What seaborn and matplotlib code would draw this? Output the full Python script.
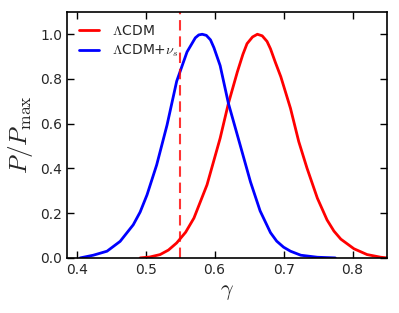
import pandas as pd
import matplotlib
matplotlib.use("Agg")
import matplotlib.pyplot as plt
import seaborn as sns

# --------------------------------------------------
# data
# --------------------------------------------------

gamma_lcdm = [0.492, 0.506, 0.521, 0.533, 0.545, 0.558, 0.570, 0.589, 0.608, 0.620,
              0.633, 0.641, 0.647, 0.655, 0.662, 0.669, 0.676, 0.681, 0.688, 0.696,
              0.710, 0.722, 0.734, 0.749, 0.763, 0.773, 0.783, 0.802, 0.821, 0.841, 0.850]
p_lcdm = [0.0, 0.004, 0.015, 0.035, 0.067, 0.115, 0.178, 0.327, 0.535, 0.691,
          0.832, 0.910, 0.958, 0.988, 1.0, 0.993, 0.968, 0.935, 0.875, 0.810,
          0.669, 0.520, 0.401, 0.267, 0.170, 0.120, 0.084, 0.041, 0.015, 0.003, 0.0]

gamma_nus = [0.405, 0.424, 0.444, 0.463, 0.482, 0.492, 0.502, 0.516, 0.531, 0.545,
             0.560, 0.572, 0.577, 0.582, 0.588, 0.594, 0.599, 0.608, 0.620, 0.637,
             0.652, 0.666, 0.681, 0.690, 0.700, 0.710, 0.725, 0.749, 0.775]
p_nus = [0.0, 0.012, 0.030, 0.074, 0.148, 0.205, 0.282, 0.416, 0.594, 0.790,
         0.921, 0.984, 0.997, 1.0, 0.995, 0.975, 0.940, 0.860, 0.691, 0.505,
         0.340, 0.210, 0.113, 0.075, 0.048, 0.030, 0.012, 0.003, 0.0]

gamma_ref = 0.55

df = pd.concat([
    pd.DataFrame({"gamma": gamma_lcdm, "P": p_lcdm, "model": r"$\Lambda$CDM"}),
    pd.DataFrame({"gamma": gamma_nus, "P": p_nus, "model": r"$\Lambda$CDM+$\nu_s$"}),
])

# --------------------------------------------------
# plotting
# --------------------------------------------------

sns.set_style("ticks")
plt.rcParams["mathtext.fontset"] = "cm"
plt.rcParams["font.family"] = ["DejaVu Sans"]

fig = plt.figure(figsize=(3.99, 3.13), dpi=100)
ax = fig.add_axes([0.168, 0.176, 0.802, 0.786])

sns.lineplot(data=df, x="gamma", y="P", hue="model", palette=["red", "blue"],
             linewidth=2, sort=False, ax=ax)
ax.axvline(gamma_ref, color="red", linestyle="--", linewidth=1.5, alpha=0.8,
           dashes=(5, 2.8))

ax.set_xlim(0.386, 0.85)
ax.set_ylim(0, 1.1)
ax.set_xticks([0.4, 0.5, 0.6, 0.7, 0.8])
ax.set_yticks([0.0, 0.2, 0.4, 0.6, 0.8, 1.0])
ax.tick_params(direction="in", top=True, right=True, length=5, width=1,
               labelsize=10, color="black")
for s in ax.spines.values():
    s.set_linewidth(1.2)
    s.set_color("black")

ax.set_xlabel(r"$\gamma$", fontsize=16)
ax.set_ylabel(r"$P/P_{\rm max}$", fontsize=18)
ax.legend(frameon=False, loc="upper left", fontsize=10, handlelength=1.45,
          borderaxespad=0.45, labelspacing=0.35, handletextpad=0.95)

fig.savefig("out.png", dpi=100)
